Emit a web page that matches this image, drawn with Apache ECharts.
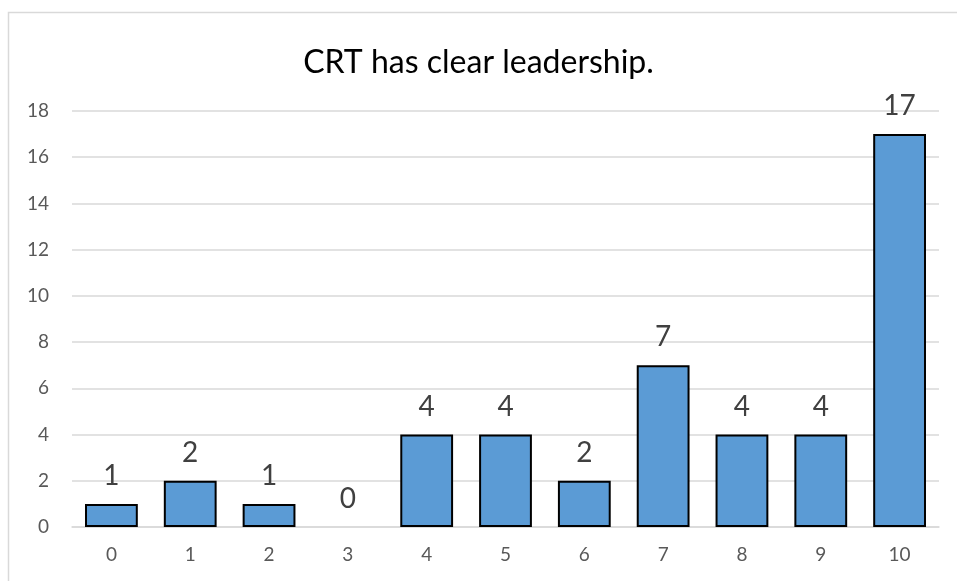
<!DOCTYPE html>
<html>
<head>
<meta charset="utf-8">
<script src="https://cdn.jsdelivr.net/npm/echarts@6/dist/echarts.min.js"></script>
<style>
  html, body { margin: 0; padding: 0; background: #fff; }
  #bar { width: 957px; height: 581px; }
</style>
</head>
<body>
<div id="bar"></div>
<script>
const categories = ["0", "1", "2", "3", "4", "5", "6", "7", "8", "9", "10"];
const counts = [1, 2, 1, 0, 4, 4, 2, 7, 4, 4, 17];
const titleText = "CRT has clear leadership.";

const barChart = echarts.init(document.getElementById("bar"));

const barOption = {
  animation: false,
  textStyle: { fontFamily: "Lato" },
  title: {
    text: titleText,
    left: "center",
    top: 42,
    textStyle: {
      fontFamily: "Lato",
      fontSize: 32,
      fontWeight: "normal",
      color: "#000",
    },
  },
  // outer chart border, runs off the right and bottom edges
  graphic: [
    {
      type: "rect",
      shape: { x: 8.5, y: 12.5, width: 1000, height: 1000 },
      style: { fill: "none", stroke: "#d9d9d9", lineWidth: 1.5 },
      silent: true,
    },
  ],
  grid: {
    left: 72,
    right: 18,
    top: 111,
    bottom: 54,
  },
  xAxis: {
    type: "category",
    data: categories,
    axisLine: { lineStyle: { color: "#d9d9d9", width: 1.5 } },
    axisTick: { show: false },
    axisLabel: {
      color: "#595959",
      fontSize: 19,
      margin: 18,
    },
  },
  yAxis: {
    type: "value",
    min: 0,
    max: 18,
    interval: 2,
    axisLine: { show: false },
    axisTick: { show: false },
    axisLabel: {
      color: "#595959",
      fontSize: 19,
      margin: 23,
    },
    splitLine: {
      lineStyle: { color: "#d9d9d9", width: 1.5 },
    },
  },
  series: [
    {
      type: "bar",
      // zero-height bars get no outline
      data: counts.map((v) => (v === 0 ? { value: v, itemStyle: { borderWidth: 0 } } : v)),
      barCategoryGap: "33%",
      itemStyle: {
        color: "#5b9bd5",
        borderColor: "#000",
        borderWidth: 2,
      },
      label: {
        show: true,
        position: "top",
        distance: 14,
        fontSize: 28,
        color: "#404040",
      },
    },
  ],
};

barOption && barChart.setOption(barOption);
</script>
</body>
</html>
